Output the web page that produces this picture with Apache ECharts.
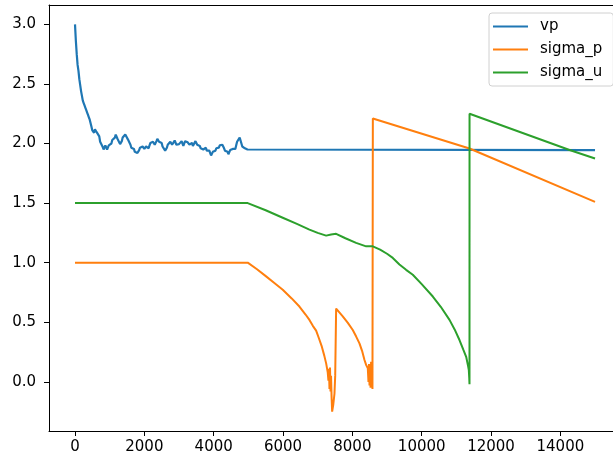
<!DOCTYPE html>
<html>
<head>
<meta charset="utf-8">
<script src="https://cdn.jsdelivr.net/npm/echarts@6/dist/echarts.min.js"></script>
<style>html,body{margin:0;padding:0;background:#fff}#c{width:613px;height:459px}</style>
</head>
<body>
<div id="c"></div>
<script>
const seriesNames = ['vp', 'sigma_p', 'sigma_u'];
const xTicks = [0, 2000, 4000, 6000, 8000, 10000, 12000, 14000];
const yTicks = [0.0, 0.5, 1.0, 1.5, 2.0, 2.5, 3.0];

const vpPoints = [
  [0,3.00],[25,2.86],[50,2.75],[75,2.66],[100,2.61],[125,2.54],[150,2.49],[175,2.44],[200,2.40],[225,2.36],
  [250,2.34],[275,2.32],[300,2.30],[325,2.28],[350,2.26],[375,2.24],[400,2.22],[425,2.20],[450,2.17],[475,2.14],
  [500,2.11],[525,2.10],[550,2.09],[575,2.12],[600,2.135],[625,2.095],[650,2.09],[675,2.09],[700,2.06],[725,2.015],
  [750,2.00],[775,2.00],[800,1.97],[825,1.95],[850,1.96],[875,1.985],[900,1.975],[925,1.95],[950,1.96],[975,1.985],
  [1000,1.975],[1025,1.975],[1050,2.00],[1075,2.03],[1100,2.03],[1125,2.02],[1150,2.05],[1175,2.075],[1200,2.07],[1225,2.04],
  [1250,2.04],[1275,2.03],[1300,1.995],[1325,1.99],[1350,2.02],[1375,2.05],[1400,2.055],[1425,2.05],[1450,2.075],[1475,2.085],
  [1500,2.065],[1525,2.035],[1550,2.03],[1575,2.02],[1600,1.99],[1625,1.965],[1650,1.965],[1675,1.975],[1700,1.955],[1725,1.93],
  [1750,1.935],[1775,1.94],[1800,1.92],[1825,1.92],[1850,1.945],[1875,1.965],[1900,1.96],[1925,1.955],[1950,1.975],[1975,1.98],
  [2000,1.955],[2025,1.95],[2050,1.975],[2075,1.98],[2100,1.96],[2125,1.96],[2150,1.985],[2175,2.005],[2200,2.00],[2225,1.995],
  [2250,2.015],[2275,2.015],[2300,1.99],[2325,1.99],[2350,2.02],[2375,2.04],[2400,2.035],[2425,2.015],[2450,2.025],[2475,2.03],
  [2500,2.005],[2525,1.975],[2550,1.97],[2575,1.97],[2600,1.94],[2625,1.94],[2650,1.965],[2675,1.99],[2700,1.99],[2725,1.99],
  [2750,2.015],[2775,2.015],[2800,1.99],[2825,1.985],[2850,2.005],[2875,2.025],[2900,2.015],[2925,1.99],[2950,1.985],[2975,2.005],
  [3000,1.995],[3025,1.99],[3050,2.01],[3075,2.02],[3100,2.00],[3125,1.98],[3150,1.99],[3175,2.02],[3200,2.025],[3225,2.005],
  [3250,2.01],[3275,2.015],[3300,1.99],[3325,1.985],[3350,2.005],[3375,2.005],[3400,1.98],[3425,1.975],[3450,1.995],[3475,2.02],
  [3500,2.015],[3525,1.99],[3550,1.99],[3575,2.00],[3600,1.98],[3625,1.96],[3650,1.96],[3675,1.97],[3700,1.95],[3725,1.945],
  [3750,1.965],[3775,1.965],[3800,1.94],[3825,1.925],[3850,1.935],[3875,1.94],[3900,1.92],[3925,1.90],[3950,1.91],[3975,1.93],
  [4000,1.925],[4025,1.92],[4050,1.94],[4075,1.96],[4100,1.955],[4125,1.95],[4150,1.965],[4175,1.985],[4200,1.975],[4225,1.97],
  [4250,1.99],[4275,1.99],[4300,1.96],[4325,1.94],[4350,1.945],[4375,1.95],[4400,1.93],[4425,1.91],[4450,1.92],[4475,1.945],
  [4500,1.94],[4525,1.935],[4550,1.955],[4575,1.965],[4600,1.95],[4625,1.955],[4650,1.985],[4675,2.015],[4700,2.02],[4725,2.025],
  [4750,2.05],[4775,2.04],[4800,2.00],[4825,1.975],[4850,1.98],[4875,1.98],[4900,1.96],[4925,1.945],[4950,1.95],[4975,1.95],
  [5000,1.945],[15000,1.945]
];

const sigmaPPoints = [
  [0,1.00],[4982,1.00],[5250,0.945],[5512,0.885],[5750,0.83],[5992,0.773],[6250,0.70],[6473,0.632],[6650,0.565],[6762,0.52],
  [6860,0.47],[6955,0.43],[7030,0.37],[7120,0.295],[7190,0.22],[7244,0.155],[7290,0.08],[7310,0.01],[7325,0.11],[7340,-0.06],
  [7355,0.12],[7370,-0.08],[7385,0.05],[7400,-0.12],[7417,-0.25],[7450,-0.19],[7484,-0.10],[7505,0.05],[7532,0.615],[7560,0.605],
  [7723,0.55],[7870,0.495],[8012,0.435],[8110,0.38],[8205,0.323],[8280,0.26],[8350,0.183],[8400,0.14],[8446,0.113],[8465,0.0],
  [8480,0.15],[8495,-0.03],[8510,0.12],[8525,-0.05],[8540,0.168],[8555,-0.04],[8570,0.14],[8580,-0.06],[8590,-0.05],[8591,2.21],
  [11379,1.958],[15000,1.51]
];

const sigmaUPoints = [
  [0,1.50],[4982,1.50],[5500,1.44],[5992,1.377],[6400,1.325],[6762,1.278],[7000,1.25],[7244,1.227],[7290,1.222],[7388,1.236],
  [7532,1.242],[7800,1.205],[8108,1.166],[8397,1.137],[8590,1.137],[8800,1.11],[9000,1.075],[9166,1.04],[9358,0.985],[9550,0.94],
  [9743,0.899],[10000,0.82],[10321,0.716],[10550,0.63],[10802,0.52],[10950,0.44],[11090,0.351],[11200,0.27],[11283,0.21],[11340,0.13],
  [11359,0.099],[11372,0.03],[11379,-0.02],[11380,2.25],[14265,1.946],[15000,1.874]
];

const chart = echarts.init(document.getElementById('c'), null, {renderer: 'canvas'});
const font = 'DejaVu Sans';
chart.setOption({
  animation: false,
  color: ['#1f77b4', '#ff7f0e', '#2ca02c'],
  grid: {left: 49, right: 0, top: 5, bottom: 28},
  legend: {
    orient: 'vertical', left: 489, top: 13,
    icon: 'rect', itemWidth: 35, itemHeight: 2, itemGap: 8,
    padding: [6, 11, 6, 4],
    backgroundColor: 'rgba(255,255,255,0.8)', borderColor: '#d0d0d0', borderWidth: 1, borderRadius: 3,
    textStyle: {fontFamily: font, fontSize: 15, color: '#000', padding: [0, 0, 0, 7]},
    data: seriesNames
  },
  xAxis: [{
    type: 'value', min: -750, max: 15518,
    splitLine: {show: false},
    axisLine: {show: true, onZero: false, lineStyle: {color: '#000', width: 1}},
    axisTick: {show: true, length: 5, customValues: xTicks, lineStyle: {color: '#000'}},
    axisLabel: {customValues: xTicks, margin: 9, fontFamily: font, fontSize: 15, color: '#000', formatter: v => String(v)}
  }, {
    type: 'value', position: 'top', min: -750, max: 15518,
    splitLine: {show: false},
    axisLine: {show: true, onZero: false, lineStyle: {color: '#000', width: 1}},
    axisTick: {show: false}, axisLabel: {show: false}
  }],
  yAxis: {
    type: 'value', min: -0.4125, max: 3.1625,
    splitLine: {show: false},
    axisLine: {show: true, onZero: false, lineStyle: {color: '#000', width: 1}},
    axisTick: {show: true, length: 5, customValues: yTicks, lineStyle: {color: '#000'}},
    axisLabel: {customValues: yTicks, margin: 13, fontFamily: font, fontSize: 15, color: '#000', formatter: v => v.toFixed(1)}
  },
  series: [
    {name: seriesNames[0], type: 'line', data: vpPoints, showSymbol: false, symbol: 'none', lineStyle: {width: 2.2}},
    {name: seriesNames[1], type: 'line', data: sigmaPPoints, showSymbol: false, symbol: 'none', lineStyle: {width: 2}},
    {name: seriesNames[2], type: 'line', data: sigmaUPoints, showSymbol: false, symbol: 'none', lineStyle: {width: 2}}
  ]
});
</script>
</body>
</html>
